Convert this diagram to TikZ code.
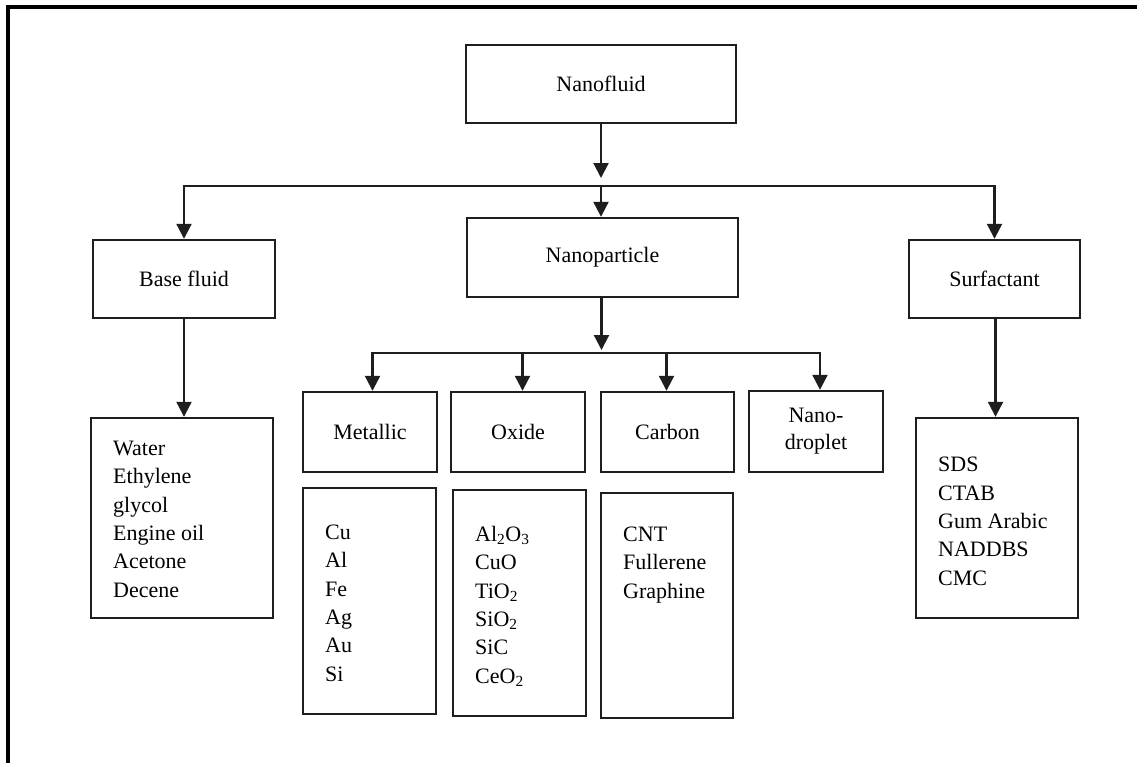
\documentclass[tikz,border=0pt]{standalone}
\usepackage{fontspec}
\setmainfont{Liberation Serif}
\usetikzlibrary{arrows.meta,calc}
\definecolor{ink}{HTML}{1E1E1E}
\tikzset{
  box/.style={draw=ink, line width=2.4pt, inner sep=0pt, align=center,
              font=\fontsize{22}{27}\selectfont},
  listtxt/.style={inner sep=0pt, align=left, anchor=base west,
              font=\fontsize{22}{28.3}\selectfont},
  conn/.style={draw=ink, line width=2.2pt, line join=miter},
  tip/.style={-{Triangle[width=15pt,length=15pt]}},
  tips/.style={{Triangle[width=15pt,length=15pt]}-{Triangle[width=15pt,length=15pt]}}
}
\begin{document}
\begin{tikzpicture}[x=1pt,y=-1pt]
\useasboundingbox (0,0) rectangle (1137,763);
% outer frame
\draw[line width=4pt, black] (8,763) -- (8,6.5) -- (1137,6.5);

% level 0 and 1
\node[box, minimum width=270pt, minimum height=78pt] (nf) at (601,84) {Nanofluid};
\node[box, minimum width=182pt, minimum height=78pt] (bf) at (184,279) {Base fluid};
\node[box, minimum width=271pt, minimum height=79pt] (np) at (602.5,257.5) {Nanoparticle};
\node[box, minimum width=171pt, minimum height=78pt] (sf) at (994.5,279) {Surfactant};

% level 2
\node[box, minimum width=134pt, minimum height=80pt] (me) at (370,432) {Metallic};
\node[box, minimum width=134pt, minimum height=80pt] (ox) at (518,432) {Oxide};
\node[box, minimum width=133pt, minimum height=80pt] (ca) at (667.5,432) {Carbon};
\node[box, minimum width=134pt, minimum height=81pt] (nd) at (816,431.5) {Nano-\\droplet};

% list boxes
\node[box, minimum width=182pt, minimum height=200pt] (bfl) at (182,518) {};
\node[box, minimum width=133pt, minimum height=226pt] (mel) at (369.5,601) {};
\node[box, minimum width=133pt, minimum height=226pt] (oxl) at (519.5,603) {};
\node[box, minimum width=132pt, minimum height=225pt] (cal) at (667,605.5) {};
\node[box, minimum width=162pt, minimum height=200pt] (sfl) at (997,518) {};

% list texts (anchored at the baseline of their last line)
\node[listtxt] (bft) at (113,597) {Water\\Ethylene\\glycol\\Engine oil\\Acetone\\Decene};
\node[listtxt] (met) at (325,681) {Cu\\Al\\Fe\\Ag\\Au\\Si};
\node[listtxt] (oxt) at (475,683) {Al\textsubscript{2}O\textsubscript{3}\\CuO\\TiO\textsubscript{2}\\SiO\textsubscript{2}\\SiC\\CeO\textsubscript{2}};
\node[listtxt] (cat) at (623,598) {CNT\\Fullerene\\Graphine};
\node[listtxt] (sft) at (938,585) {SDS\\CTAB\\Gum Arabic\\NADDBS\\CMC};

% bus coordinates
\coordinate (busA) at (0,186);
\coordinate (busB) at (0,353);
\coordinate (mx) at (372.5,0);
\coordinate (ox2) at (522.5,0);
\coordinate (cx) at (666.5,0);
\coordinate (nx) at (820,0);

% connectors, top level
\draw[conn, tip] (nf.south) -- ([yshift=8pt]nf.south |- busA);
\draw[conn, tips] (bf.north) -- (bf.north |- busA) -- (sf.north |- busA) -- (sf.north);
\draw[conn, tip] ($(nf.south |- busA)$) -- (nf.south |- np.north);

% base fluid and surfactant lists
\draw[conn, tip] (bf.south) -- (bf.south |- bfl.north);
\draw[conn, tip] ([xshift=1pt]sf.south) -- ([xshift=1pt]sf.south |- sfl.north);

% nanoparticle branches
\draw[conn, tip] ([xshift=-1pt]np.south) -- ([xshift=-1pt,yshift=3pt]np.south |- busB);
\draw[conn, tips] (mx |- me.north) -- (mx |- busB) -- (nx |- busB) -- (nx |- nd.north);
\draw[conn, tip] (ox2 |- busB) -- (ox2 |- ox.north);
\draw[conn, tip] (cx |- busB) -- (cx |- ca.north);
\end{tikzpicture}
\end{document}
